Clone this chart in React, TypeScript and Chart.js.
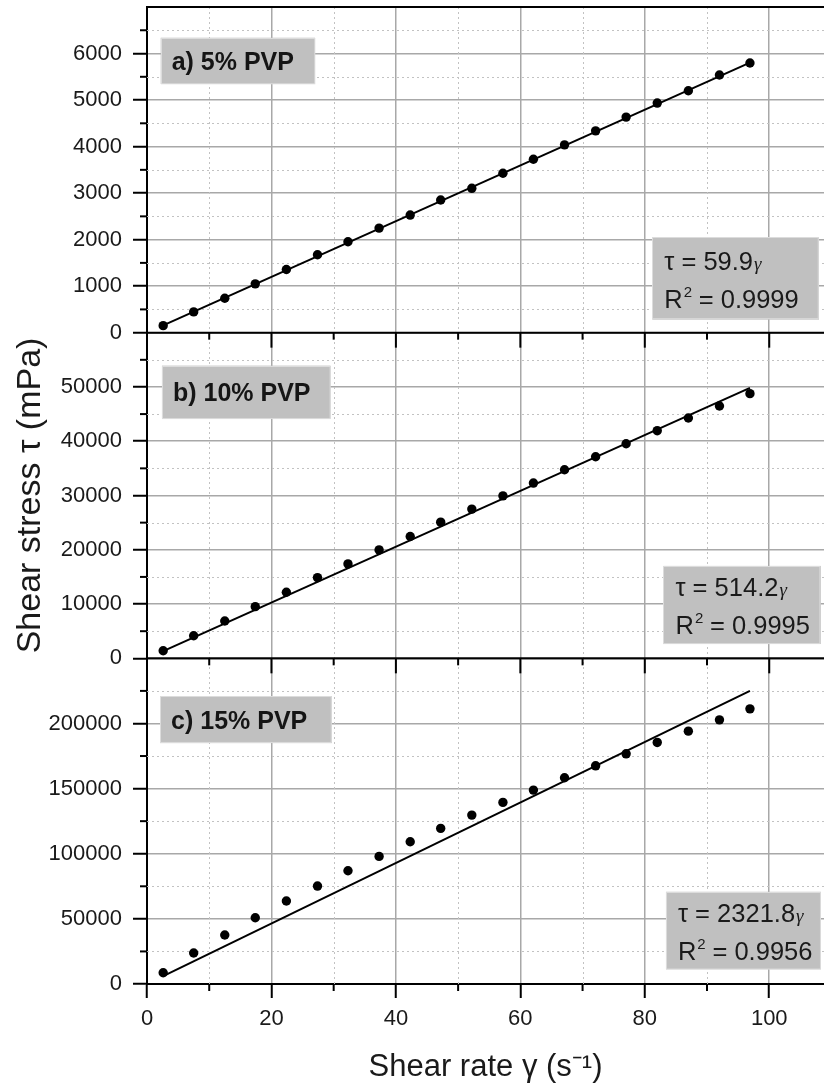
import React, { useEffect, useRef } from 'react';
import { Chart, registerables } from 'chart.js';

Chart.register(...registerables);

// ---- data ----
const shearRate = [2.6, 7.5, 12.5, 17.4, 22.4, 27.4, 32.3, 37.3, 42.3, 47.2, 52.2, 57.2, 62.1, 67.1, 72.1, 77.0, 82.0, 87.0, 92.0, 96.9];
const stressA = [151, 446, 739, 1049, 1358, 1674, 1955, 2248, 2528, 2851, 3103, 3427, 3728, 4037, 4338, 4634, 4935, 5200, 5539, 5797];
const stressB = [1400, 4170, 6880, 9520, 12180, 14870, 17400, 19980, 22440, 25090, 27490, 29940, 32290, 34740, 37140, 39540, 41940, 44280, 46490, 48760];
const stressC = [8670, 23780, 37590, 50870, 63680, 75190, 86920, 97970, 109180, 119450, 129660, 139400, 148840, 158290, 167490, 176700, 185440, 194110, 202780, 211210];
const fitRate = [2.6, 96.9];
const fitA = [156, 5804];
const fitB = [1337, 49826];
const fitC = [6037, 224980];
const panelLabels = ['a) 5% PVP', 'b) 10% PVP', 'c) 15% PVP'];
const fitSlopes = ['59.9', '514.2', '2321.8'];
const fitR2 = ['0.9999', '0.9995', '0.9956'];
const yMaxes = [7000, 60000, 250000];
const yMajorSteps = [1000, 10000, 50000];
const xMax = 108.8;
const xMajorStep = 20;

const FONT = "'Liberation Sans', Arial, sans-serif";

// annotation boxes in data coordinates of each panel
const labelBoxes = [
  { x0: 2.2, x1: 27.0, y0: 6340, y1: 5345 },
  { x0: 2.4, x1: 29.5, y0: 53930, y1: 44150 },
  { x0: 2.1, x1: 29.7, y0: 220950, y1: 184900 },
];
const eqBoxes = [
  { x0: 81.2, x1: 108.0, y0: 2047, y1: 280 },
  { x0: 83.0, x1: 108.3, y0: 17030, y1: 2640 },
  { x0: 83.4, x1: 108.3, y0: 70810, y1: 11280 },
];

const toPts = (xs: number[], ys: number[]) => xs.map((x, i) => ({ x, y: ys[i] }));

const noPad = (s: any) => {
  s.paddingTop = 0;
  s.paddingBottom = 0;
  s.paddingLeft = 0;
  s.paddingRight = 0;
};

const decor = {
  id: 'decor',
  beforeDatasetsDraw(chart: any) {
    const { ctx, chartArea: ca, scales } = chart;
    const xs = scales.x;
    const panels = [scales.yA, scales.yB, scales.yC];
    const line = (x1: number, y1: number, x2: number, y2: number) => {
      ctx.beginPath();
      ctx.moveTo(x1, y1);
      ctx.lineTo(x2, y2);
      ctx.stroke();
    };
    ctx.save();
    // minor dotted grid
    ctx.strokeStyle = '#c2c2c2';
    ctx.lineWidth = 1;
    ctx.setLineDash([2, 3]);
    for (let v = xMajorStep / 2; v < xMax; v += xMajorStep) {
      const px = Math.round(xs.getPixelForValue(v)) + 0.5;
      line(px, ca.top, px, ca.bottom);
    }
    panels.forEach((s: any, i: number) => {
      const step = yMajorSteps[i];
      for (let v = step / 2; v < yMaxes[i]; v += step) {
        const py = Math.round(s.getPixelForValue(v)) + 0.5;
        line(ca.left, py, ca.right, py);
      }
    });
    ctx.setLineDash([]);
    // minor y ticks
    ctx.strokeStyle = '#000';
    ctx.lineWidth = 2;
    panels.forEach((s: any, i: number) => {
      const step = yMajorSteps[i];
      for (let v = step / 2; v < yMaxes[i]; v += step) {
        const py = s.getPixelForValue(v);
        line(ca.left - 7, py, ca.left, py);
      }
    });
    // panel frames and x ticks at each panel bottom
    line(ca.left, ca.top, ca.right, ca.top);
    panels.forEach((s: any, i: number) => {
      const yb = s.bottom;
      if (i < 2) line(ca.left, yb, ca.right, yb);
      for (let v = xMajorStep / 2; v < xMax; v += xMajorStep / 2) {
        const major = Math.abs(v / xMajorStep - Math.round(v / xMajorStep)) < 1e-6;
        if (major && i === 2) continue;
        const px = xs.getPixelForValue(v);
        line(px, yb, px, yb + (major ? 15 : 7));
      }
    });
    ctx.restore();
  },
  afterDatasetsDraw(chart: any) {
    const { ctx, scales } = chart;
    const xs = scales.x;
    const panels = [scales.yA, scales.yB, scales.yC];
    ctx.save();
    const drawBox = (l: number, t: number, r: number, b: number) => {
      ctx.fillStyle = '#c0c0c0';
      ctx.fillRect(l, t, r - l, b - t);
      ctx.strokeStyle = '#dcdcdc';
      ctx.lineWidth = 1;
      ctx.strokeRect(Math.round(l) + 0.5, Math.round(t) + 0.5, r - l - 1, b - t - 1);
    };
    panels.forEach((s: any, i: number) => {
      // panel label
      const lb = labelBoxes[i];
      const l = xs.getPixelForValue(lb.x0), r = xs.getPixelForValue(lb.x1);
      const t = s.getPixelForValue(lb.y0), b = s.getPixelForValue(lb.y1);
      drawBox(l, t, r, b);
      ctx.fillStyle = '#151515';
      ctx.textBaseline = 'alphabetic';
      ctx.textAlign = 'left';
      ctx.font = `bold 25px ${FONT}`;
      ctx.fillText(panelLabels[i], l + 11, (t + b) / 2 + 9);

      // equation box
      const eb = eqBoxes[i];
      const el = xs.getPixelForValue(eb.x0), er = xs.getPixelForValue(eb.x1);
      const et = s.getPixelForValue(eb.y0), ebm = s.getPixelForValue(eb.y1);
      drawBox(el, et, er, ebm);
      const cy = (et + ebm) / 2;
      const b1 = cy - 9, b2 = cy + 29;
      const tx = el + 12;
      ctx.fillStyle = '#1a1a1a';
      ctx.font = `25.5px ${FONT}`;
      const t1 = 'τ = ' + fitSlopes[i];
      ctx.fillText(t1, tx, b1);
      const w1 = ctx.measureText(t1).width;
      ctx.font = "italic 19px 'Liberation Serif', serif";
      ctx.fillText('γ', tx + w1 + 1, b1);
      ctx.font = `25.5px ${FONT}`;
      ctx.fillText('R', tx, b2);
      const wr = ctx.measureText('R').width;
      ctx.font = `15px ${FONT}`;
      ctx.fillText('2', tx + wr + 1, b2 - 11);
      ctx.font = `25.5px ${FONT}`;
      ctx.fillText(' = ' + fitR2[i], tx + wr + 9, b2);
    });
    ctx.restore();
  },
};

function yScale(i: number, extra: any = {}) {
  const max = yMaxes[i];
  return {
    type: 'linear',
    position: 'left',
    stack: 'panels',
    stackWeight: 1,
    min: 0,
    max,
    afterFit: (s: any) => { s.width = 147; noPad(s); },
    ticks: {
      stepSize: yMajorSteps[i],
      autoSkip: false,
      includeBounds: false,
      padding: 11,
      color: '#1a1a1a',
      font: { size: 22, family: FONT },
      callback: (v: any) => (v >= max ? '' : String(v)),
    },
    grid: {
      color: '#a8a8a8',
      lineWidth: 1.5,
      tickLength: 14,
      tickWidth: 2,
      tickColor: (c: any) => (c.tick && c.tick.value >= max ? 'rgba(0,0,0,0)' : '#000'),
    },
    border: { color: '#000', width: 2 },
    ...extra,
  };
}

export default function App() {
  const ref = useRef<HTMLCanvasElement>(null);
  useEffect(() => {
    if (!ref.current) return;
    const pointDs = (data: number[], axis: string) => ({
      type: 'scatter',
      data: toPts(shearRate, data),
      yAxisID: axis,
      backgroundColor: '#000',
      borderWidth: 0,
      pointRadius: 4.7,
      showLine: false,
    });
    const fitDs = (data: number[], axis: string) => ({
      type: 'scatter',
      data: toPts(fitRate, data),
      yAxisID: axis,
      showLine: true,
      borderColor: '#000',
      borderWidth: 2,
      pointRadius: 0,
      fill: false,
    });
    const chart = new Chart(ref.current, {
      type: 'scatter',
      data: {
        datasets: [
          pointDs(stressA, 'yA'), fitDs(fitA, 'yA'),
          pointDs(stressB, 'yB'), fitDs(fitB, 'yB'),
          pointDs(stressC, 'yC'), fitDs(fitC, 'yC'),
        ] as any,
      },
      options: {
        responsive: false,
        animation: false,
        devicePixelRatio: 1,
        layout: { autoPadding: false, padding: { top: 7, right: 0, left: 0, bottom: 0 } },
        plugins: { legend: { display: false }, tooltip: { enabled: false } },
        scales: {
          x: {
            type: 'linear',
            position: 'bottom',
            min: 0,
            max: xMax,
            afterFit: (s: any) => { s.height = 104; noPad(s); },
            ticks: {
              stepSize: xMajorStep,
              includeBounds: false,
              autoSkip: false,
              maxRotation: 0,
              padding: 8,
              color: '#1a1a1a',
              font: { size: 22, family: FONT },
              callback: (v: any) => String(v),
            },
            grid: {
              color: '#a8a8a8',
              lineWidth: 1.5,
              tickLength: 14,
              tickWidth: 2,
              tickColor: '#000',
            },
            border: { color: '#000', width: 2 },
            title: {
              display: true,
              text: 'Shear rate γ (s⁻¹)',
              color: '#1a1a1a',
              font: { size: 31, family: FONT },
              padding: { top: 0, bottom: 2 },
            },
          },
          yC: yScale(2),
          yB: yScale(1, {
            title: {
              display: true,
              text: 'Shear stress τ (mPa)',
              color: '#1a1a1a',
              font: { size: 34, family: FONT },
              padding: { top: 10, bottom: 0 },
            },
          }),
          yA: yScale(0),
        } as any,
      },
      plugins: [decor],
    });
    return () => chart.destroy();
  }, []);
  return (
    <div style={{ position: 'absolute', left: 0, top: 0, width: 824, height: 1088, background: '#fff' }}>
      <canvas ref={ref} width={824} height={1088} style={{ display: 'block', width: 824, height: 1088 }} />
    </div>
  );
}
